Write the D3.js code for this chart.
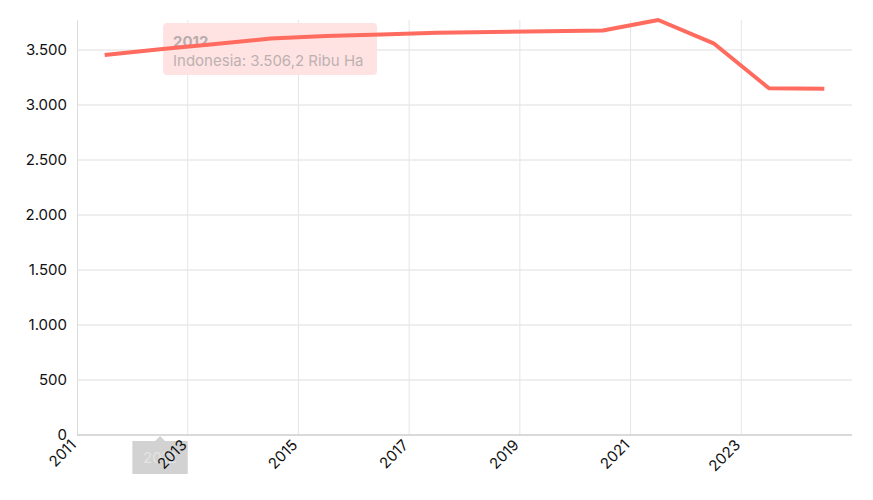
<!DOCTYPE html>
<html>
<head>
<meta charset="utf-8">
<script src="https://cdn.jsdelivr.net/npm/d3@7"></script>
<style>
  body { margin: 0; background: #fff; }
  #chart text { font-family: Inter, "Helvetica Neue", Arial, sans-serif; }
</style>
</head>
<body>
<div id="chart"><svg></svg></div>
<script>
// luas lahan (Ribu Ha), Indonesia
var years = [2011, 2012, 2013, 2014, 2015, 2016, 2017, 2018, 2019, 2020, 2021, 2022, 2023, 2024];
var values = [3455, 3506.2, 3555, 3605, 3627, 3641, 3656, 3664, 3671, 3677, 3773, 3561, 3152, 3148];
var yTicks = [0, 500, 1000, 1500, 2000, 2500, 3000, 3500];
var labelYears = [2011, 2013, 2015, 2017, 2019, 2021, 2023];
var hoverYear = 2012;
var seriesName = "Indonesia";
var unit = "Ribu Ha";

var W = 873, H = 500;
var margin = { top: 20, right: 21, bottom: 65, left: 77 };
var width = W - margin.left - margin.right;
var height = H - margin.top - margin.bottom;

var fmt = d3.formatLocale({ decimal: ",", thousands: ".", grouping: [3], currency: ["Rp", ""] });
var fmtInt = fmt.format(",d");
var fmtDec = fmt.format(",.1f");

var svg = d3.select("#chart svg").
  attr("width", W).
  attr("height", H).
  append("g").
  attr("transform", "translate(" + margin.left + "," + margin.top + ")");

var x = d3.scaleBand().
  domain(years).
  range([0, width]);

var y = d3.scaleLinear().
  domain([0, d3.max(values)]).
  range([height, 0]);

// horizontal grid
svg.append("g").
  selectAll("line").
  data(yTicks).
  enter().append("line").
  attr("x1", 0).attr("x2", width).
  attr("y1", function(d) { return y(d); }).
  attr("y2", function(d) { return y(d); }).
  attr("stroke", "#dedede").
  attr("stroke-width", 1);

// vertical grid at labeled band edges
svg.append("g").
  selectAll("line").
  data(labelYears.slice(1)).
  enter().append("line").
  attr("x1", function(d) { return x(d); }).
  attr("x2", function(d) { return x(d); }).
  attr("y1", 0).attr("y2", height).
  attr("stroke", "#e6e6e6").
  attr("stroke-width", 1);

// y axis
var yAxis = d3.axisLeft(y).
  tickValues(yTicks).
  tickSize(0).
  tickPadding(10).
  tickFormat(function(d) { return fmtInt(d); });

var gY = svg.append("g").call(yAxis);
gY.select(".domain").attr("stroke", "#dcdcdc");
gY.selectAll("text").attr("font-size", 15).attr("fill", "#111");

// x axis baseline
svg.append("line").
  attr("x1", 0).attr("x2", width).
  attr("y1", height).attr("y2", height).
  attr("stroke", "#c4c4c4");

// hover label on x axis
var hx = x(hoverYear) + x.bandwidth() / 2;
var hl = svg.append("g");
hl.append("rect").
  attr("x", x(hoverYear)).
  attr("y", height + 6).
  attr("width", x.bandwidth()).
  attr("height", 33).
  attr("fill", "#d2d2d2");
hl.append("path").
  attr("d", "M" + (hx - 5) + "," + (height + 6) + "L" + hx + "," + (height + 1) + "L" + (hx + 5) + "," + (height + 6) + "Z").
  attr("fill", "#d2d2d2");
hl.append("text").
  attr("x", hx).
  attr("y", height + 28).
  attr("text-anchor", "middle").
  attr("font-size", 15).
  attr("fill", "#e4e4e4").
  text(hoverYear);

// x labels
svg.append("g").
  selectAll("text").
  data(labelYears).
  enter().append("text").
  attr("transform", function(d) {
    return "translate(" + x(d) + "," + (height + 11) + ") rotate(-45)";
  }).
  attr("text-anchor", "end").
  attr("font-size", 15).
  attr("fill", "#111").
  text(function(d) { return d; });

// tooltip
var hi = years.indexOf(hoverYear);
var tx = hx + 3, ty = 3;
var tip = svg.append("g").attr("transform", "translate(" + tx + "," + ty + ")");
tip.append("rect").
  attr("width", 214).
  attr("height", 52).
  attr("rx", 4).
  attr("fill", "#ffe3e3");
tip.append("text").
  attr("x", 10).attr("y", 24).
  attr("font-size", 15).
  attr("font-weight", "bold").
  attr("fill", "#b8acac").
  text(hoverYear);
tip.append("text").
  attr("x", 10).attr("y", 43).
  attr("font-size", 15).
  attr("fill", "#bcb1b1").
  text(seriesName + ": " + fmtDec(values[hi]) + " " + unit);

// line
var ds = years.map(function(d, i) { return { x: d, y: values[i] }; });
var line = d3.line().
  x(function(d) { return x(d.x) + x.bandwidth() / 2; }).
  y(function(d) { return y(d.y); });

svg.append("path").
  datum(ds).
  attr("fill", "none").
  attr("stroke", "#ff6b5e").
  attr("stroke-width", 4).
  attr("stroke-linejoin", "round").
  attr("d", line);
</script>
</body>
</html>
